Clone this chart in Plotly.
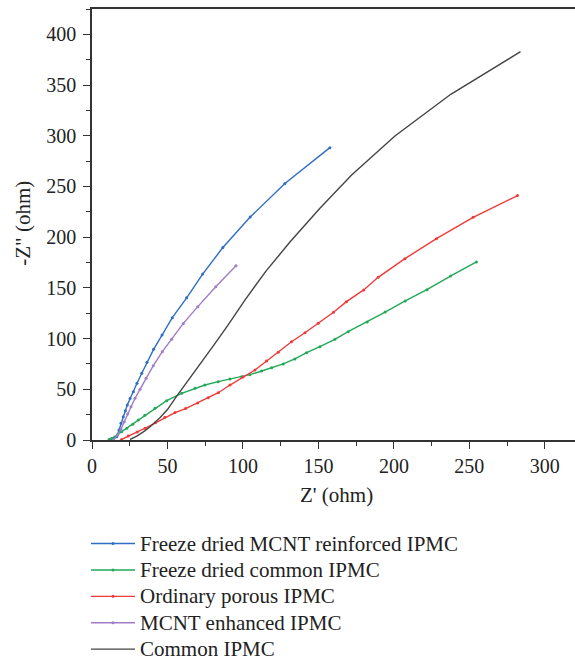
import plotly.graph_objects as go

# Freeze dried MCNT reinforced IPMC
blue_x = [13.7, 16.4, 17.9, 19.2, 20.7, 22.1, 23.4, 25.2, 27.4, 29.8, 33.0, 36.4, 40.8, 46.4, 53.2, 62.7, 73.3, 86.7, 104.8, 127.8, 157.6]
blue_y = [0.0, 3.3, 9.9, 16.4, 23.0, 28.9, 34.5, 41.0, 47.6, 55.9, 65.8, 76.6, 89.4, 103.5, 120.6, 140.2, 163.6, 189.8, 219.8, 253.0, 288.3]

# Freeze dried common IPMC
green_x = [11.3, 13.0, 15.0, 17.0, 19.6, 23.0, 27.0, 30.7, 35.0, 41.7, 49.5, 59.4, 68.2, 74.8, 83.6, 91.4, 99.1, 104.6, 112.4, 119.0, 126.7, 134.4, 142.2, 151.0, 160.9, 169.7, 182.3, 194.2, 207.5, 221.9, 237.5, 254.7]
green_y = [0.5, 1.5, 3.0, 5.5, 8.2, 11.5, 15.5, 19.7, 24.5, 31.3, 38.8, 46.0, 51.0, 54.2, 57.5, 60.2, 62.4, 64.4, 68.0, 71.3, 75.0, 79.9, 86.1, 92.0, 99.3, 106.8, 116.4, 126.2, 137.1, 148.2, 161.7, 175.6]

# Ordinary porous IPMC
red_x = [19.6, 24.0, 30.0, 35.1, 42.0, 48.3, 55.0, 62.0, 70.0, 77.0, 83.7, 91.4, 100.0, 108.0, 115.7, 123.4, 132.2, 141.1, 149.9, 160.0, 168.6, 180.0, 189.6, 207.3, 228.2, 252.5, 281.9]
red_y = [0.5, 3.9, 8.0, 11.5, 17.0, 22.4, 27.0, 31.0, 36.5, 41.7, 46.6, 54.2, 62.0, 69.0, 77.9, 86.5, 96.9, 105.8, 115.1, 126.0, 136.4, 148.0, 160.4, 178.8, 198.5, 219.6, 241.0]

# MCNT enhanced IPMC
purple_x = [14.1, 17.0, 19.2, 21.4, 23.6, 25.8, 28.5, 31.8, 35.8, 40.6, 46.6, 52.8, 60.5, 70.1, 82.0, 95.4]
purple_y = [0.0, 4.9, 10.8, 18.0, 25.6, 32.9, 41.1, 50.0, 60.8, 73.3, 87.1, 99.3, 115.0, 131.5, 151.2, 171.8]

# Common IPMC
black_x = [25.2, 30.0, 35.0, 40.0, 45.0, 50.0, 56.0, 63.0, 71.5, 80.0, 90.0, 101.3, 115.0, 131.0, 151.0, 172.0, 200.7, 237.7, 283.9]
black_y = [0.5, 4.0, 9.0, 15.0, 22.0, 30.0, 43.0, 57.0, 74.0, 92.0, 113.0, 138.0, 166.0, 195.0, 228.5, 261.3, 299.8, 340.9, 382.9]

series = [
    ("Freeze dried MCNT reinforced IPMC", blue_x, blue_y, "#2f6ec4", True),
    ("Freeze dried common IPMC", green_x, green_y, "#22a858", True),
    ("Ordinary porous IPMC", red_x, red_y, "#f03a3a", True),
    ("MCNT enhanced IPMC", purple_x, purple_y, "#a07cc8", True),
    ("Common IPMC", black_x, black_y, "#444444", False),
]

FONT = "Liberation Serif"

fig = go.Figure()
for name, xs, ys, color, mk in series:
    fig.add_trace(go.Scatter(
        x=xs, y=ys,
        name='<span style="font-size:21px">' + name + '</span>',
        mode="lines+markers" if mk else "lines",
        line=dict(color=color, width=1.4),
        marker=dict(color=color, size=3),
    ))

fig.update_layout(
    width=575, height=660,
    margin=dict(l=92, r=0, t=9, b=220, autoexpand=False),
    paper_bgcolor="white", plot_bgcolor="white",
    font=dict(family=FONT, size=20, color="#222222"),
    showlegend=True,
    legend=dict(
        xref="container", yref="container",
        x=0.1496, y=0.204, xanchor="left", yanchor="top",
        itemwidth=44,
        font=dict(family=FONT, size=18, color="#222222"),
        bgcolor="rgba(0,0,0,0)", tracegroupgap=0,
    ),
    xaxis=dict(
        range=[0, 320], dtick=50, tick0=0, automargin=False,
        showgrid=False, zeroline=False,
        showline=True, linecolor="#333333", linewidth=1.5, mirror=True,
        ticks="outside", ticklen=7, tickwidth=1.3, tickcolor="#333333",
        minor=dict(dtick=25, ticks="outside", ticklen=4, tickwidth=1.2, tickcolor="#333333"),
        tickfont=dict(family=FONT, size=20),
    ),
    yaxis=dict(
        range=[0, 425], dtick=50, tick0=0, automargin=False,
        showgrid=False, zeroline=False,
        showline=True, linecolor="#333333", linewidth=1.5, mirror=False,
        ticks="outside", ticklen=7, tickwidth=1.3, tickcolor="#333333",
        ticklabelstandoff=3,
        minor=dict(dtick=25, ticks="outside", ticklen=4, tickwidth=1.2, tickcolor="#333333"),
        tickfont=dict(family=FONT, size=20),
    ),
    annotations=[
        dict(text="Z' (ohm)", xref="paper", yref="paper", x=0.506, y=-0.127,
             xanchor="center", yanchor="middle", showarrow=False,
             font=dict(family=FONT, size=21, color="#222222")),
        dict(text='-Z" (ohm)', xref="paper", yref="paper", x=-0.143, y=0.504,
             xanchor="center", yanchor="middle", showarrow=False, textangle=-90,
             font=dict(family=FONT, size=21, color="#222222")),
    ],
)

fig.write_html("out.html", config={"displayModeBar": False},
               post_script="document.body.style.margin='0px';document.body.style.overflow='hidden';")
